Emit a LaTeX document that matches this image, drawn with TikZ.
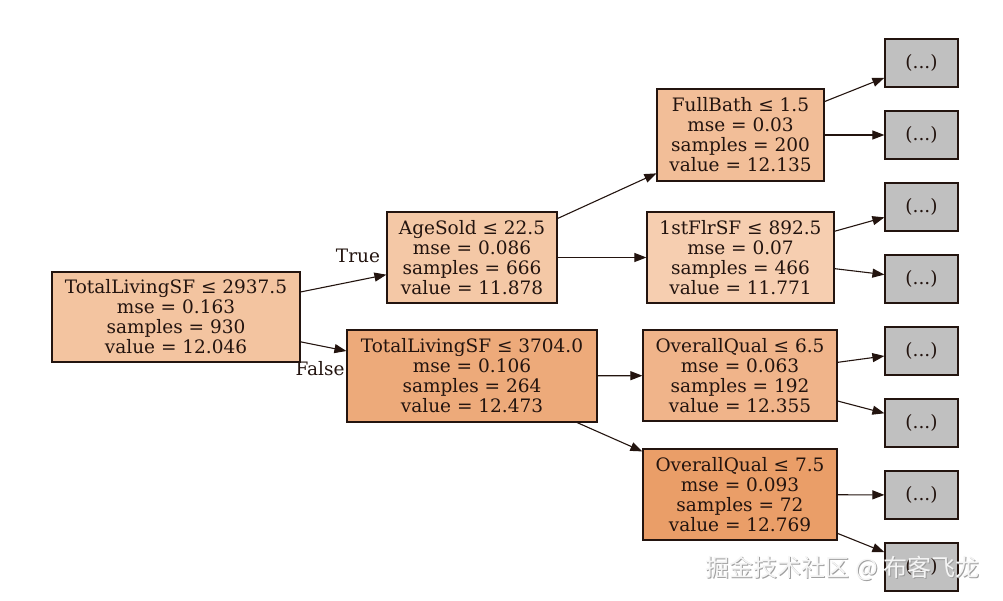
\documentclass[tikz,border=0pt]{standalone}
\usepackage{fontspec}
\setmainfont{DejaVu Serif}
\newfontfamily\cjk{Noto Sans CJK SC}
\usetikzlibrary{arrows.meta}
\definecolor{ink}{RGB}{35,20,15}
\definecolor{cRoot}{RGB}{243,196,160}
\definecolor{cAge}{RGB}{244,200,166}
\definecolor{cTls}{RGB}{237,170,122}
\definecolor{cFull}{RGB}{242,190,152}
\definecolor{cFlr}{RGB}{246,206,176}
\definecolor{cOqa}{RGB}{240,180,138}
\definecolor{cOqb}{RGB}{234,158,104}
\definecolor{leafgray}{RGB}{192,192,192}
\tikzset{
  treenode/.style={draw=ink, line width=1.2pt, rectangle, align=center, inner sep=1pt,
    text=ink, font=\fontsize{18.5}{20}\selectfont},
  leafnode/.style={treenode, fill=leafgray, minimum width=73pt, minimum height=48pt},
  edge/.style={draw=ink, line width=1.1pt, -{Triangle[length=12pt,width=9pt]}},
  edgelabel/.style={text=ink, font=\fontsize{18.5}{20}\selectfont, inner sep=0pt}
}
\begin{document}
\begin{tikzpicture}[x=1pt,y=-1pt]
\useasboundingbox (0,0) rectangle (1003,601);
\node[treenode, fill=cRoot, minimum width=248pt, minimum height=90pt] (root) at (176,317)
  {TotalLivingSF ≤ 2937.5\\mse = 0.163\\samples = 930\\value = 12.046};
\node[treenode, fill=cAge, minimum width=170pt, minimum height=91pt] (age) at (472,257.5)
  {AgeSold ≤ 22.5\\mse = 0.086\\samples = 666\\value = 11.878};
\node[treenode, fill=cTls, minimum width=250pt, minimum height=92pt] (tls) at (472,376)
  {TotalLivingSF ≤ 3704.0\\mse = 0.106\\samples = 264\\value = 12.473};
\node[treenode, fill=cFull, minimum width=167pt, minimum height=92pt] (full) at (740.5,135)
  {FullBath ≤ 1.5\\mse = 0.03\\samples = 200\\value = 12.135};
\node[treenode, fill=cFlr, minimum width=187pt, minimum height=91pt] (flr) at (740.5,257.5)
  {1stFlrSF ≤ 892.5\\mse = 0.07\\samples = 466\\value = 11.771};
\node[treenode, fill=cOqa, minimum width=194pt, minimum height=91pt] (oqa) at (740,375.5)
  {OverallQual ≤ 6.5\\mse = 0.063\\samples = 192\\value = 12.355};
\node[treenode, fill=cOqb, minimum width=194pt, minimum height=91pt] (oqb) at (740,494.5)
  {OverallQual ≤ 7.5\\mse = 0.093\\samples = 72\\value = 12.769};
\node[leafnode] (l1) at (921.5,63) {(...)};
\node[leafnode] (l2) at (921.5,135) {(...)};
\node[leafnode] (l3) at (921.5,207) {(...)};
\node[leafnode] (l4) at (921.5,279) {(...)};
\node[leafnode] (l5) at (921.5,351) {(...)};
\node[leafnode] (l6) at (921.5,423) {(...)};
\node[leafnode] (l7) at (921.5,495) {(...)};
\node[leafnode] (l8) at (921.5,567) {(...)};
\draw[edge] (root) -- (age);
\draw[edge] (root) -- (tls);
\draw[edge] (age) -- (full);
\draw[edge] (age) -- (flr);
\draw[edge] (tls) -- (oqa);
\draw[edge] (tls) -- (oqb);
\draw[edge] (full) -- (l1);
\draw[edge] (full) -- (l2);
\draw[edge] (flr) -- (l3);
\draw[edge] (flr) -- (l4);
\draw[edge] (oqa) -- (l5);
\draw[edge] (oqa) -- (l6);
\draw[edge] (oqb) -- (l7);
\draw[edge] (oqb) -- (l8);
\node[edgelabel] (lt) at (358,256) {True};
\node[edgelabel] (lf) at (320,369) {False};
\node[text=gray!75, font=\cjk\fontsize{24}{28}\selectfont, inner sep=0pt] (wms) at (843.5,569.5) {掘金技术社区 @ 布客飞龙};
\node[text=white!92!gray, font=\cjk\fontsize{24}{28}\selectfont, inner sep=0pt] (wm) at (842.5,568.5) {掘金技术社区 @ 布客飞龙};
\end{tikzpicture}
\end{document}
